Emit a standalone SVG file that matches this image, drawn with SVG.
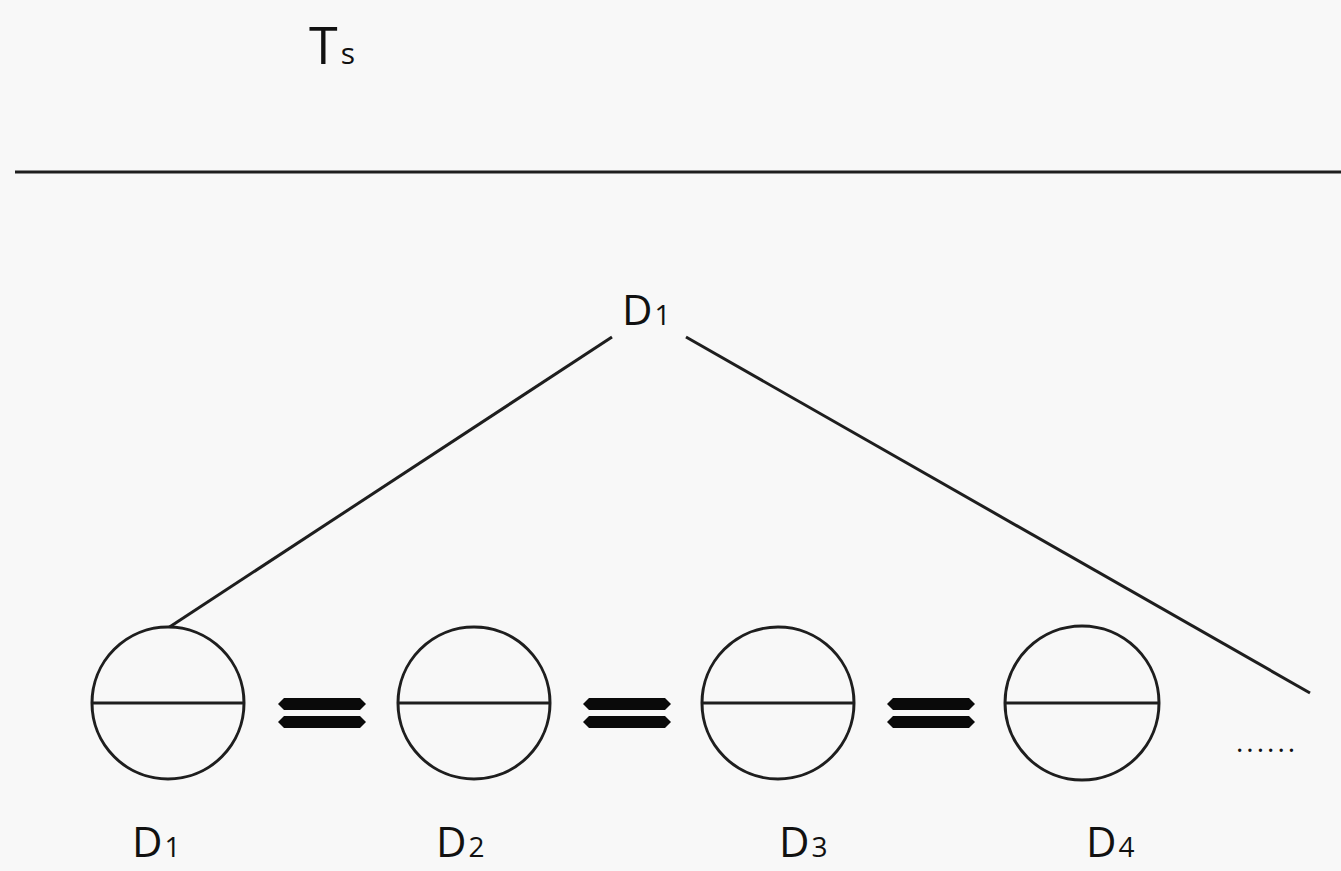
<svg xmlns="http://www.w3.org/2000/svg" width="1341" height="871" viewBox="0 0 1341 871">
<defs>
<style>
.ln{stroke:#1e1e1e;stroke-width:3;fill:none;}
.c{stroke:#1e1e1e;stroke-width:3;fill:#f8f8f8;}
.t{font-family:"Open Sans","Liberation Sans",sans-serif;fill:#111;font-weight:500;}
.eq{fill:#0a0a0a;}
</style>
<g id="eqs">
<path id="eqshape" d="M6,0 H82 L88,6 L82,12 H6 L0,6 Z"/>
</g>
</defs>
<rect width="1341" height="871" fill="#f8f8f8"/>
<g id="title">
<text class="t" x="309" y="64" font-size="52">T<tspan font-size="30" dx="3">s</tspan></text>
</g>
<g id="connectors">
<line class="ln" x1="15" y1="172" x2="1341" y2="172"/>
<line class="ln" x1="612" y1="337" x2="168" y2="628"/>
<line class="ln" x1="686" y1="337" x2="1310" y2="693"/>
</g>
<g id="root">
<text class="t" x="622" y="325" font-size="42">D<tspan font-size="28" dx="2">1</tspan></text>
</g>
<g id="d1">
<circle class="c" cx="168" cy="703" r="76"/>
<line class="ln" x1="92" y1="703" x2="244" y2="703"/>
<text class="t" x="132" y="857" font-size="42">D<tspan font-size="28" dx="2">1</tspan></text>
</g>
<g id="d2">
<circle class="c" cx="474" cy="703" r="76"/>
<line class="ln" x1="398" y1="703" x2="550" y2="703"/>
<text class="t" x="436" y="857" font-size="42">D<tspan font-size="28" dx="2">2</tspan></text>
</g>
<g id="d3">
<circle class="c" cx="778" cy="703" r="76"/>
<line class="ln" x1="702" y1="703" x2="854" y2="703"/>
<text class="t" x="779" y="857" font-size="42">D<tspan font-size="28" dx="2">3</tspan></text>
</g>
<g id="d4">
<circle class="c" cx="1082" cy="703" r="77"/>
<line class="ln" x1="1005" y1="703" x2="1159" y2="703"/>
<text class="t" x="1086" y="857" font-size="42">D<tspan font-size="28" dx="2">4</tspan></text>
</g>
<g id="equals" class="eq">
<use href="#eqshape" x="278" y="698"/>
<use href="#eqshape" x="278" y="716"/>
<use href="#eqshape" x="583" y="698"/>
<use href="#eqshape" x="583" y="716"/>
<use href="#eqshape" x="887" y="698"/>
<use href="#eqshape" x="887" y="716"/>
</g>
<g id="ellipsis">
<text class="t" x="1236" y="752" font-size="28" letter-spacing="3">......</text>
</g>
</svg>
